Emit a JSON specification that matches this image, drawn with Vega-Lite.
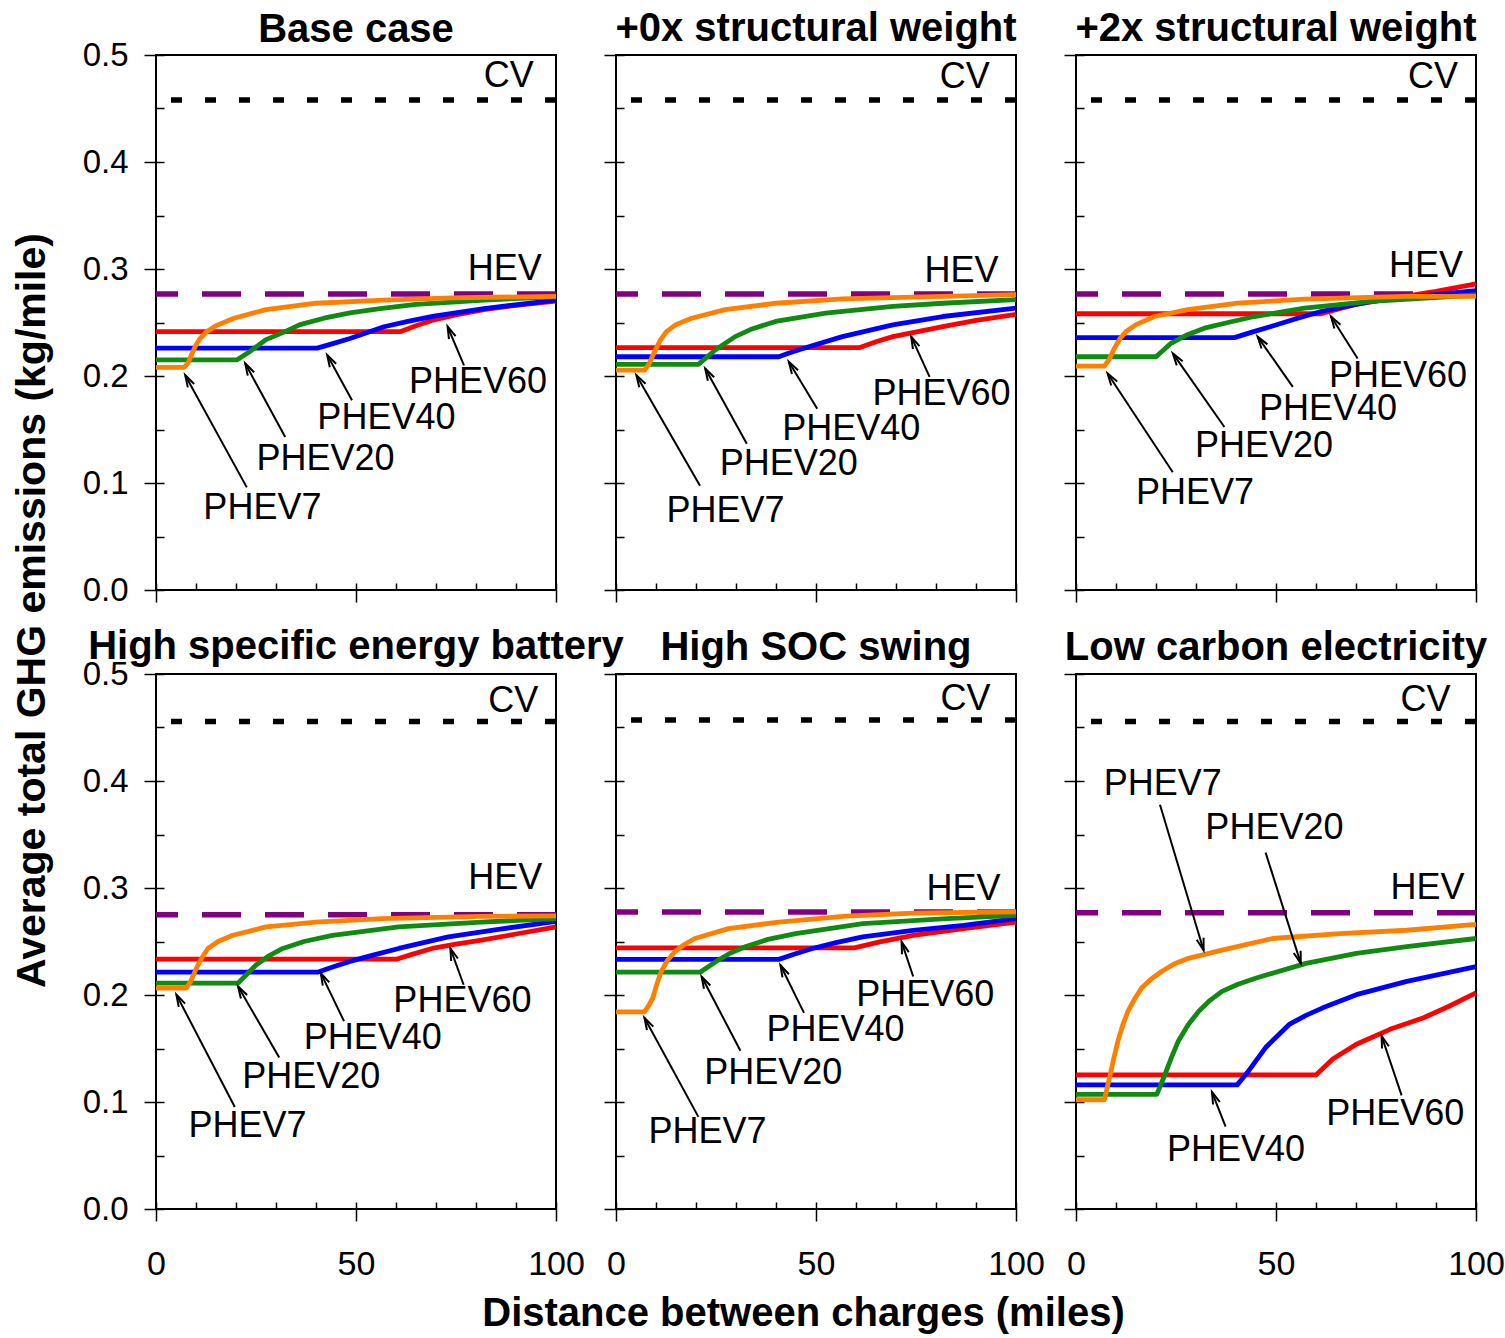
{
  "$schema": "https://vega.github.io/schema/vega-lite/v6.json",
  "background": "white",
  "padding": {"left": 10, "top": 8, "right": 5, "bottom": 2},
  "config": {
    "font": "Liberation Sans",
    "view": {"stroke": "black", "strokeWidth": 2},
    "axis": {"tickColor": "black", "tickWidth": 1.5, "labelColor": "black", "grid": false, "domain": false, "labelFont": "Liberation Sans", "titleFont": "Liberation Sans", "titleColor": "black", "labelFlush": false},
    "title": {"fontSize": 40, "fontWeight": "bold", "color": "black", "offset": 5, "frame": "group", "anchor": "middle", "font": "Liberation Sans"}
  },
  "columns": 3,
  "spacing": {"row": 84, "column": 60},
  "bounds": "flush",
  "datasets": {
    "refs": [
      {"panel": "base", "vehicle": "CV", "ghg": 0.458}, {"panel": "base", "vehicle": "HEV", "ghg": 0.2766},
      {"panel": "x0", "vehicle": "CV", "ghg": 0.458}, {"panel": "x0", "vehicle": "HEV", "ghg": 0.2766},
      {"panel": "x2", "vehicle": "CV", "ghg": 0.458}, {"panel": "x2", "vehicle": "HEV", "ghg": 0.2766},
      {"panel": "hse", "vehicle": "CV", "ghg": 0.4556}, {"panel": "hse", "vehicle": "HEV", "ghg": 0.275},
      {"panel": "soc", "vehicle": "CV", "ghg": 0.457}, {"panel": "soc", "vehicle": "HEV", "ghg": 0.2775},
      {"panel": "lce", "vehicle": "CV", "ghg": 0.4556}, {"panel": "lce", "vehicle": "HEV", "ghg": 0.2769}
    ],
    "curves": [
      {"panel": "base", "vehicle": "PHEV60", "dist": 0, "ghg": 0.2415},
      {"panel": "base", "vehicle": "PHEV60", "dist": 61.2, "ghg": 0.2415},
      {"panel": "base", "vehicle": "PHEV60", "dist": 65, "ghg": 0.247},
      {"panel": "base", "vehicle": "PHEV60", "dist": 69.5, "ghg": 0.2525},
      {"panel": "base", "vehicle": "PHEV60", "dist": 75, "ghg": 0.257},
      {"panel": "base", "vehicle": "PHEV60", "dist": 82, "ghg": 0.262},
      {"panel": "base", "vehicle": "PHEV60", "dist": 90, "ghg": 0.266},
      {"panel": "base", "vehicle": "PHEV60", "dist": 100, "ghg": 0.27},
      {"panel": "base", "vehicle": "PHEV40", "dist": 0, "ghg": 0.226},
      {"panel": "base", "vehicle": "PHEV40", "dist": 40.3, "ghg": 0.226},
      {"panel": "base", "vehicle": "PHEV40", "dist": 44, "ghg": 0.23},
      {"panel": "base", "vehicle": "PHEV40", "dist": 48.5, "ghg": 0.235},
      {"panel": "base", "vehicle": "PHEV40", "dist": 57, "ghg": 0.246},
      {"panel": "base", "vehicle": "PHEV40", "dist": 63, "ghg": 0.251},
      {"panel": "base", "vehicle": "PHEV40", "dist": 69.5, "ghg": 0.256},
      {"panel": "base", "vehicle": "PHEV40", "dist": 82, "ghg": 0.263},
      {"panel": "base", "vehicle": "PHEV40", "dist": 100, "ghg": 0.271},
      {"panel": "base", "vehicle": "PHEV20", "dist": 0, "ghg": 0.215},
      {"panel": "base", "vehicle": "PHEV20", "dist": 20.2, "ghg": 0.215},
      {"panel": "base", "vehicle": "PHEV20", "dist": 23.5, "ghg": 0.223},
      {"panel": "base", "vehicle": "PHEV20", "dist": 27.5, "ghg": 0.234},
      {"panel": "base", "vehicle": "PHEV20", "dist": 32, "ghg": 0.241},
      {"panel": "base", "vehicle": "PHEV20", "dist": 36, "ghg": 0.248},
      {"panel": "base", "vehicle": "PHEV20", "dist": 42, "ghg": 0.254},
      {"panel": "base", "vehicle": "PHEV20", "dist": 48.5, "ghg": 0.259},
      {"panel": "base", "vehicle": "PHEV20", "dist": 56, "ghg": 0.263},
      {"panel": "base", "vehicle": "PHEV20", "dist": 65, "ghg": 0.267},
      {"panel": "base", "vehicle": "PHEV20", "dist": 82, "ghg": 0.271},
      {"panel": "base", "vehicle": "PHEV20", "dist": 100, "ghg": 0.274},
      {"panel": "base", "vehicle": "PHEV7", "dist": 0, "ghg": 0.208},
      {"panel": "base", "vehicle": "PHEV7", "dist": 7, "ghg": 0.208},
      {"panel": "base", "vehicle": "PHEV7", "dist": 8, "ghg": 0.212},
      {"panel": "base", "vehicle": "PHEV7", "dist": 9, "ghg": 0.221},
      {"panel": "base", "vehicle": "PHEV7", "dist": 10, "ghg": 0.229},
      {"panel": "base", "vehicle": "PHEV7", "dist": 11, "ghg": 0.235},
      {"panel": "base", "vehicle": "PHEV7", "dist": 12.5, "ghg": 0.241},
      {"panel": "base", "vehicle": "PHEV7", "dist": 15, "ghg": 0.247},
      {"panel": "base", "vehicle": "PHEV7", "dist": 19.5, "ghg": 0.254},
      {"panel": "base", "vehicle": "PHEV7", "dist": 27.5, "ghg": 0.262},
      {"panel": "base", "vehicle": "PHEV7", "dist": 40, "ghg": 0.268},
      {"panel": "base", "vehicle": "PHEV7", "dist": 57, "ghg": 0.271},
      {"panel": "base", "vehicle": "PHEV7", "dist": 74, "ghg": 0.273},
      {"panel": "base", "vehicle": "PHEV7", "dist": 100, "ghg": 0.2745},

      {"panel": "x0", "vehicle": "PHEV60", "dist": 0, "ghg": 0.2265},
      {"panel": "x0", "vehicle": "PHEV60", "dist": 60.8, "ghg": 0.2265},
      {"panel": "x0", "vehicle": "PHEV60", "dist": 65, "ghg": 0.232},
      {"panel": "x0", "vehicle": "PHEV60", "dist": 69.2, "ghg": 0.2368},
      {"panel": "x0", "vehicle": "PHEV60", "dist": 81.7, "ghg": 0.2462},
      {"panel": "x0", "vehicle": "PHEV60", "dist": 90, "ghg": 0.252},
      {"panel": "x0", "vehicle": "PHEV60", "dist": 100, "ghg": 0.2575},
      {"panel": "x0", "vehicle": "PHEV40", "dist": 0, "ghg": 0.218},
      {"panel": "x0", "vehicle": "PHEV40", "dist": 40.7, "ghg": 0.218},
      {"panel": "x0", "vehicle": "PHEV40", "dist": 44, "ghg": 0.2225},
      {"panel": "x0", "vehicle": "PHEV40", "dist": 48.2, "ghg": 0.2274},
      {"panel": "x0", "vehicle": "PHEV40", "dist": 56.6, "ghg": 0.2368},
      {"panel": "x0", "vehicle": "PHEV40", "dist": 69.2, "ghg": 0.2478},
      {"panel": "x0", "vehicle": "PHEV40", "dist": 81.7, "ghg": 0.2556},
      {"panel": "x0", "vehicle": "PHEV40", "dist": 100, "ghg": 0.2634},
      {"panel": "x0", "vehicle": "PHEV20", "dist": 0, "ghg": 0.2108},
      {"panel": "x0", "vehicle": "PHEV20", "dist": 20.6, "ghg": 0.2108},
      {"panel": "x0", "vehicle": "PHEV20", "dist": 24.8, "ghg": 0.2243},
      {"panel": "x0", "vehicle": "PHEV20", "dist": 29.8, "ghg": 0.2368},
      {"panel": "x0", "vehicle": "PHEV20", "dist": 34, "ghg": 0.244},
      {"panel": "x0", "vehicle": "PHEV20", "dist": 39.9, "ghg": 0.251},
      {"panel": "x0", "vehicle": "PHEV20", "dist": 52.4, "ghg": 0.2588},
      {"panel": "x0", "vehicle": "PHEV20", "dist": 69.2, "ghg": 0.265},
      {"panel": "x0", "vehicle": "PHEV20", "dist": 81.7, "ghg": 0.268},
      {"panel": "x0", "vehicle": "PHEV20", "dist": 100, "ghg": 0.2713},
      {"panel": "x0", "vehicle": "PHEV7", "dist": 0, "ghg": 0.2055},
      {"panel": "x0", "vehicle": "PHEV7", "dist": 7.2, "ghg": 0.2055},
      {"panel": "x0", "vehicle": "PHEV7", "dist": 8.2, "ghg": 0.211},
      {"panel": "x0", "vehicle": "PHEV7", "dist": 9.7, "ghg": 0.223},
      {"panel": "x0", "vehicle": "PHEV7", "dist": 11, "ghg": 0.233},
      {"panel": "x0", "vehicle": "PHEV7", "dist": 12.6, "ghg": 0.2415},
      {"panel": "x0", "vehicle": "PHEV7", "dist": 15, "ghg": 0.248},
      {"panel": "x0", "vehicle": "PHEV7", "dist": 18.9, "ghg": 0.254},
      {"panel": "x0", "vehicle": "PHEV7", "dist": 27.3, "ghg": 0.262},
      {"panel": "x0", "vehicle": "PHEV7", "dist": 40, "ghg": 0.268},
      {"panel": "x0", "vehicle": "PHEV7", "dist": 56.6, "ghg": 0.272},
      {"panel": "x0", "vehicle": "PHEV7", "dist": 81.7, "ghg": 0.2744},
      {"panel": "x0", "vehicle": "PHEV7", "dist": 100, "ghg": 0.276},

      {"panel": "x2", "vehicle": "PHEV60", "dist": 0, "ghg": 0.2582},
      {"panel": "x2", "vehicle": "PHEV60", "dist": 61.25, "ghg": 0.2582},
      {"panel": "x2", "vehicle": "PHEV60", "dist": 65, "ghg": 0.262},
      {"panel": "x2", "vehicle": "PHEV60", "dist": 69.6, "ghg": 0.2666},
      {"panel": "x2", "vehicle": "PHEV60", "dist": 75, "ghg": 0.27},
      {"panel": "x2", "vehicle": "PHEV60", "dist": 82.1, "ghg": 0.2744},
      {"panel": "x2", "vehicle": "PHEV60", "dist": 90, "ghg": 0.279},
      {"panel": "x2", "vehicle": "PHEV60", "dist": 100, "ghg": 0.286},
      {"panel": "x2", "vehicle": "PHEV40", "dist": 0, "ghg": 0.2359},
      {"panel": "x2", "vehicle": "PHEV40", "dist": 39.6, "ghg": 0.2359},
      {"panel": "x2", "vehicle": "PHEV40", "dist": 44, "ghg": 0.241},
      {"panel": "x2", "vehicle": "PHEV40", "dist": 48.75, "ghg": 0.2462},
      {"panel": "x2", "vehicle": "PHEV40", "dist": 55, "ghg": 0.2535},
      {"panel": "x2", "vehicle": "PHEV40", "dist": 61.25, "ghg": 0.2603},
      {"panel": "x2", "vehicle": "PHEV40", "dist": 73.8, "ghg": 0.2697},
      {"panel": "x2", "vehicle": "PHEV40", "dist": 87, "ghg": 0.275},
      {"panel": "x2", "vehicle": "PHEV40", "dist": 100, "ghg": 0.2797},
      {"panel": "x2", "vehicle": "PHEV20", "dist": 0, "ghg": 0.218},
      {"panel": "x2", "vehicle": "PHEV20", "dist": 20, "ghg": 0.218},
      {"panel": "x2", "vehicle": "PHEV20", "dist": 23.75, "ghg": 0.2306},
      {"panel": "x2", "vehicle": "PHEV20", "dist": 27.5, "ghg": 0.238},
      {"panel": "x2", "vehicle": "PHEV20", "dist": 32.1, "ghg": 0.2447},
      {"panel": "x2", "vehicle": "PHEV20", "dist": 38, "ghg": 0.25},
      {"panel": "x2", "vehicle": "PHEV20", "dist": 44.6, "ghg": 0.2556},
      {"panel": "x2", "vehicle": "PHEV20", "dist": 57.1, "ghg": 0.2634},
      {"panel": "x2", "vehicle": "PHEV20", "dist": 73.8, "ghg": 0.2697},
      {"panel": "x2", "vehicle": "PHEV20", "dist": 100, "ghg": 0.2757},
      {"panel": "x2", "vehicle": "PHEV7", "dist": 0, "ghg": 0.2093},
      {"panel": "x2", "vehicle": "PHEV7", "dist": 7.1, "ghg": 0.2093},
      {"panel": "x2", "vehicle": "PHEV7", "dist": 8.2, "ghg": 0.215},
      {"panel": "x2", "vehicle": "PHEV7", "dist": 9.6, "ghg": 0.2258},
      {"panel": "x2", "vehicle": "PHEV7", "dist": 11, "ghg": 0.235},
      {"panel": "x2", "vehicle": "PHEV7", "dist": 12.5, "ghg": 0.2415},
      {"panel": "x2", "vehicle": "PHEV7", "dist": 15, "ghg": 0.248},
      {"panel": "x2", "vehicle": "PHEV7", "dist": 19.6, "ghg": 0.2556},
      {"panel": "x2", "vehicle": "PHEV7", "dist": 27.9, "ghg": 0.262},
      {"panel": "x2", "vehicle": "PHEV7", "dist": 40.4, "ghg": 0.2681},
      {"panel": "x2", "vehicle": "PHEV7", "dist": 57.1, "ghg": 0.2719},
      {"panel": "x2", "vehicle": "PHEV7", "dist": 82.1, "ghg": 0.2744},
      {"panel": "x2", "vehicle": "PHEV7", "dist": 100, "ghg": 0.2744},

      {"panel": "hse", "vehicle": "PHEV60", "dist": 0, "ghg": 0.2336},
      {"panel": "hse", "vehicle": "PHEV60", "dist": 60.3, "ghg": 0.2336},
      {"panel": "hse", "vehicle": "PHEV60", "dist": 64, "ghg": 0.238},
      {"panel": "hse", "vehicle": "PHEV60", "dist": 69, "ghg": 0.2435},
      {"panel": "hse", "vehicle": "PHEV60", "dist": 75, "ghg": 0.2475},
      {"panel": "hse", "vehicle": "PHEV60", "dist": 81.4, "ghg": 0.2512},
      {"panel": "hse", "vehicle": "PHEV60", "dist": 90, "ghg": 0.257},
      {"panel": "hse", "vehicle": "PHEV60", "dist": 100, "ghg": 0.2636},
      {"panel": "hse", "vehicle": "PHEV40", "dist": 0, "ghg": 0.2213},
      {"panel": "hse", "vehicle": "PHEV40", "dist": 40.4, "ghg": 0.2213},
      {"panel": "hse", "vehicle": "PHEV40", "dist": 44, "ghg": 0.226},
      {"panel": "hse", "vehicle": "PHEV40", "dist": 48.3, "ghg": 0.2312},
      {"panel": "hse", "vehicle": "PHEV40", "dist": 54, "ghg": 0.237},
      {"panel": "hse", "vehicle": "PHEV40", "dist": 60.7, "ghg": 0.2435},
      {"panel": "hse", "vehicle": "PHEV40", "dist": 73.1, "ghg": 0.2543},
      {"panel": "hse", "vehicle": "PHEV40", "dist": 85.6, "ghg": 0.2614},
      {"panel": "hse", "vehicle": "PHEV40", "dist": 100, "ghg": 0.2688},
      {"panel": "hse", "vehicle": "PHEV20", "dist": 0, "ghg": 0.2111},
      {"panel": "hse", "vehicle": "PHEV20", "dist": 20.5, "ghg": 0.2111},
      {"panel": "hse", "vehicle": "PHEV20", "dist": 25, "ghg": 0.228},
      {"panel": "hse", "vehicle": "PHEV20", "dist": 28, "ghg": 0.236},
      {"panel": "hse", "vehicle": "PHEV20", "dist": 31.7, "ghg": 0.2435},
      {"panel": "hse", "vehicle": "PHEV20", "dist": 37, "ghg": 0.25},
      {"panel": "hse", "vehicle": "PHEV20", "dist": 44.1, "ghg": 0.2558},
      {"panel": "hse", "vehicle": "PHEV20", "dist": 60.7, "ghg": 0.2636},
      {"panel": "hse", "vehicle": "PHEV20", "dist": 81.4, "ghg": 0.2682},
      {"panel": "hse", "vehicle": "PHEV20", "dist": 100, "ghg": 0.2713},
      {"panel": "hse", "vehicle": "PHEV7", "dist": 0, "ghg": 0.2065},
      {"panel": "hse", "vehicle": "PHEV7", "dist": 7.6, "ghg": 0.2065},
      {"panel": "hse", "vehicle": "PHEV7", "dist": 8.7, "ghg": 0.213},
      {"panel": "hse", "vehicle": "PHEV7", "dist": 10.1, "ghg": 0.225},
      {"panel": "hse", "vehicle": "PHEV7", "dist": 11.5, "ghg": 0.235},
      {"panel": "hse", "vehicle": "PHEV7", "dist": 13, "ghg": 0.2435},
      {"panel": "hse", "vehicle": "PHEV7", "dist": 15.5, "ghg": 0.25},
      {"panel": "hse", "vehicle": "PHEV7", "dist": 19.2, "ghg": 0.2558},
      {"panel": "hse", "vehicle": "PHEV7", "dist": 27.5, "ghg": 0.2636},
      {"panel": "hse", "vehicle": "PHEV7", "dist": 40, "ghg": 0.2682},
      {"panel": "hse", "vehicle": "PHEV7", "dist": 56.5, "ghg": 0.2713},
      {"panel": "hse", "vehicle": "PHEV7", "dist": 81.4, "ghg": 0.2734},
      {"panel": "hse", "vehicle": "PHEV7", "dist": 100, "ghg": 0.274},

      {"panel": "soc", "vehicle": "PHEV60", "dist": 0, "ghg": 0.2441},
      {"panel": "soc", "vehicle": "PHEV60", "dist": 59.6, "ghg": 0.2441},
      {"panel": "soc", "vehicle": "PHEV60", "dist": 65.9, "ghg": 0.2497},
      {"panel": "soc", "vehicle": "PHEV60", "dist": 74.3, "ghg": 0.2558},
      {"panel": "soc", "vehicle": "PHEV60", "dist": 86.9, "ghg": 0.262},
      {"panel": "soc", "vehicle": "PHEV60", "dist": 100, "ghg": 0.2682},
      {"panel": "soc", "vehicle": "PHEV40", "dist": 0, "ghg": 0.2333},
      {"panel": "soc", "vehicle": "PHEV40", "dist": 40.7, "ghg": 0.2333},
      {"panel": "soc", "vehicle": "PHEV40", "dist": 44.5, "ghg": 0.238},
      {"panel": "soc", "vehicle": "PHEV40", "dist": 49.1, "ghg": 0.2435},
      {"panel": "soc", "vehicle": "PHEV40", "dist": 55, "ghg": 0.249},
      {"panel": "soc", "vehicle": "PHEV40", "dist": 61.7, "ghg": 0.2543},
      {"panel": "soc", "vehicle": "PHEV40", "dist": 74.3, "ghg": 0.2605},
      {"panel": "soc", "vehicle": "PHEV40", "dist": 86.9, "ghg": 0.2651},
      {"panel": "soc", "vehicle": "PHEV40", "dist": 100, "ghg": 0.2713},
      {"panel": "soc", "vehicle": "PHEV20", "dist": 0, "ghg": 0.2213},
      {"panel": "soc", "vehicle": "PHEV20", "dist": 21, "ghg": 0.2213},
      {"panel": "soc", "vehicle": "PHEV20", "dist": 25.6, "ghg": 0.2327},
      {"panel": "soc", "vehicle": "PHEV20", "dist": 28.5, "ghg": 0.239},
      {"panel": "soc", "vehicle": "PHEV20", "dist": 32.3, "ghg": 0.2451},
      {"panel": "soc", "vehicle": "PHEV20", "dist": 38, "ghg": 0.252},
      {"panel": "soc", "vehicle": "PHEV20", "dist": 44.9, "ghg": 0.2574},
      {"panel": "soc", "vehicle": "PHEV20", "dist": 61.7, "ghg": 0.2667},
      {"panel": "soc", "vehicle": "PHEV20", "dist": 82.7, "ghg": 0.2713},
      {"panel": "soc", "vehicle": "PHEV20", "dist": 100, "ghg": 0.2744},
      {"panel": "soc", "vehicle": "PHEV7", "dist": 0, "ghg": 0.1843},
      {"panel": "soc", "vehicle": "PHEV7", "dist": 7.1, "ghg": 0.1843},
      {"panel": "soc", "vehicle": "PHEV7", "dist": 8, "ghg": 0.189},
      {"panel": "soc", "vehicle": "PHEV7", "dist": 9.2, "ghg": 0.1972},
      {"panel": "soc", "vehicle": "PHEV7", "dist": 10.2, "ghg": 0.21},
      {"panel": "soc", "vehicle": "PHEV7", "dist": 11.3, "ghg": 0.2219},
      {"panel": "soc", "vehicle": "PHEV7", "dist": 12.8, "ghg": 0.232},
      {"panel": "soc", "vehicle": "PHEV7", "dist": 14.7, "ghg": 0.2404},
      {"panel": "soc", "vehicle": "PHEV7", "dist": 17, "ghg": 0.247},
      {"panel": "soc", "vehicle": "PHEV7", "dist": 19.7, "ghg": 0.2528},
      {"panel": "soc", "vehicle": "PHEV7", "dist": 28.1, "ghg": 0.262},
      {"panel": "soc", "vehicle": "PHEV7", "dist": 40.7, "ghg": 0.2682},
      {"panel": "soc", "vehicle": "PHEV7", "dist": 57.5, "ghg": 0.2738},
      {"panel": "soc", "vehicle": "PHEV7", "dist": 74.3, "ghg": 0.2766},
      {"panel": "soc", "vehicle": "PHEV7", "dist": 100, "ghg": 0.2778},

      {"panel": "lce", "vehicle": "PHEV60", "dist": 0, "ghg": 0.1253},
      {"panel": "lce", "vehicle": "PHEV60", "dist": 60, "ghg": 0.1253},
      {"panel": "lce", "vehicle": "PHEV60", "dist": 64.2, "ghg": 0.1401},
      {"panel": "lce", "vehicle": "PHEV60", "dist": 70.1, "ghg": 0.154},
      {"panel": "lce", "vehicle": "PHEV60", "dist": 78.5, "ghg": 0.1679},
      {"panel": "lce", "vehicle": "PHEV60", "dist": 86.9, "ghg": 0.1787},
      {"panel": "lce", "vehicle": "PHEV60", "dist": 93, "ghg": 0.189},
      {"panel": "lce", "vehicle": "PHEV60", "dist": 100, "ghg": 0.2019},
      {"panel": "lce", "vehicle": "PHEV40", "dist": 0, "ghg": 0.116},
      {"panel": "lce", "vehicle": "PHEV40", "dist": 40.3, "ghg": 0.116},
      {"panel": "lce", "vehicle": "PHEV40", "dist": 43.2, "ghg": 0.1293},
      {"panel": "lce", "vehicle": "PHEV40", "dist": 47.4, "ghg": 0.1509},
      {"panel": "lce", "vehicle": "PHEV40", "dist": 53.3, "ghg": 0.1725},
      {"panel": "lce", "vehicle": "PHEV40", "dist": 57.5, "ghg": 0.181},
      {"panel": "lce", "vehicle": "PHEV40", "dist": 61.7, "ghg": 0.188},
      {"panel": "lce", "vehicle": "PHEV40", "dist": 70.1, "ghg": 0.2003},
      {"panel": "lce", "vehicle": "PHEV40", "dist": 82.7, "ghg": 0.2127},
      {"panel": "lce", "vehicle": "PHEV40", "dist": 100, "ghg": 0.2265},
      {"panel": "lce", "vehicle": "PHEV20", "dist": 0, "ghg": 0.1071},
      {"panel": "lce", "vehicle": "PHEV20", "dist": 20.2, "ghg": 0.1071},
      {"panel": "lce", "vehicle": "PHEV20", "dist": 22.3, "ghg": 0.1262},
      {"panel": "lce", "vehicle": "PHEV20", "dist": 23.9, "ghg": 0.142},
      {"panel": "lce", "vehicle": "PHEV20", "dist": 25.6, "ghg": 0.1571},
      {"panel": "lce", "vehicle": "PHEV20", "dist": 28, "ghg": 0.172},
      {"panel": "lce", "vehicle": "PHEV20", "dist": 30.7, "ghg": 0.1849},
      {"panel": "lce", "vehicle": "PHEV20", "dist": 33.5, "ghg": 0.195},
      {"panel": "lce", "vehicle": "PHEV20", "dist": 36.5, "ghg": 0.2034},
      {"panel": "lce", "vehicle": "PHEV20", "dist": 40.5, "ghg": 0.21},
      {"panel": "lce", "vehicle": "PHEV20", "dist": 44.9, "ghg": 0.2157},
      {"panel": "lce", "vehicle": "PHEV20", "dist": 57.5, "ghg": 0.2296},
      {"panel": "lce", "vehicle": "PHEV20", "dist": 70.1, "ghg": 0.2389},
      {"panel": "lce", "vehicle": "PHEV20", "dist": 82.7, "ghg": 0.2451},
      {"panel": "lce", "vehicle": "PHEV20", "dist": 100, "ghg": 0.2528},
      {"panel": "lce", "vehicle": "PHEV7", "dist": 0, "ghg": 0.1021},
      {"panel": "lce", "vehicle": "PHEV7", "dist": 7.1, "ghg": 0.1021},
      {"panel": "lce", "vehicle": "PHEV7", "dist": 8.4, "ghg": 0.1231},
      {"panel": "lce", "vehicle": "PHEV7", "dist": 9.4, "ghg": 0.14},
      {"panel": "lce", "vehicle": "PHEV7", "dist": 10.5, "ghg": 0.1571},
      {"panel": "lce", "vehicle": "PHEV7", "dist": 11.7, "ghg": 0.172},
      {"panel": "lce", "vehicle": "PHEV7", "dist": 13, "ghg": 0.1849},
      {"panel": "lce", "vehicle": "PHEV7", "dist": 14.6, "ghg": 0.196},
      {"panel": "lce", "vehicle": "PHEV7", "dist": 16.4, "ghg": 0.2065},
      {"panel": "lce", "vehicle": "PHEV7", "dist": 18.8, "ghg": 0.215},
      {"panel": "lce", "vehicle": "PHEV7", "dist": 21.4, "ghg": 0.2219},
      {"panel": "lce", "vehicle": "PHEV7", "dist": 24.5, "ghg": 0.229},
      {"panel": "lce", "vehicle": "PHEV7", "dist": 28.1, "ghg": 0.2343},
      {"panel": "lce", "vehicle": "PHEV7", "dist": 36.5, "ghg": 0.2419},
      {"panel": "lce", "vehicle": "PHEV7", "dist": 49.1, "ghg": 0.2528},
      {"panel": "lce", "vehicle": "PHEV7", "dist": 65.9, "ghg": 0.2574},
      {"panel": "lce", "vehicle": "PHEV7", "dist": 82.7, "ghg": 0.2605},
      {"panel": "lce", "vehicle": "PHEV7", "dist": 100, "ghg": 0.266}
    ],
    "labels": [
      {"panel": "base", "label": "CV", "x": 88.2, "y": 0.48}, {"panel": "base", "label": "HEV", "x": 87.2, "y": 0.2998},
      {"panel": "base", "label": "PHEV60", "x": 80.5, "y": 0.1945}, {"panel": "base", "label": "PHEV40", "x": 57.6, "y": 0.1607},
      {"panel": "base", "label": "PHEV20", "x": 42.4, "y": 0.1222}, {"panel": "base", "label": "PHEV7", "x": 26.6, "y": 0.0771},
      {"panel": "x0", "label": "CV", "x": 87.2, "y": 0.479}, {"panel": "x0", "label": "HEV", "x": 86.4, "y": 0.298},
      {"panel": "x0", "label": "PHEV60", "x": 81.4, "y": 0.1833}, {"panel": "x0", "label": "PHEV40", "x": 58.8, "y": 0.1504},
      {"panel": "x0", "label": "PHEV20", "x": 43.2, "y": 0.1175}, {"panel": "x0", "label": "PHEV7", "x": 27.4, "y": 0.0742},
      {"panel": "x2", "label": "CV", "x": 89.25, "y": 0.479}, {"panel": "x2", "label": "HEV", "x": 87.5, "y": 0.3026},
      {"panel": "x2", "label": "PHEV60", "x": 80.5, "y": 0.2002}, {"panel": "x2", "label": "PHEV40", "x": 63, "y": 0.1692},
      {"panel": "x2", "label": "PHEV20", "x": 47, "y": 0.1344}, {"panel": "x2", "label": "PHEV7", "x": 29.75, "y": 0.0902},
      {"panel": "hse", "label": "CV", "x": 89.3, "y": 0.475}, {"panel": "hse", "label": "HEV", "x": 87.3, "y": 0.3093},
      {"panel": "hse", "label": "PHEV60", "x": 76.6, "y": 0.1944}, {"panel": "hse", "label": "PHEV40", "x": 54.2, "y": 0.1602},
      {"panel": "hse", "label": "PHEV20", "x": 38.8, "y": 0.1231}, {"panel": "hse", "label": "PHEV7", "x": 22.9, "y": 0.0778},
      {"panel": "soc", "label": "CV", "x": 87.4, "y": 0.477}, {"panel": "soc", "label": "HEV", "x": 86.9, "y": 0.299},
      {"panel": "soc", "label": "PHEV60", "x": 77.3, "y": 0.2}, {"panel": "soc", "label": "PHEV40", "x": 54.9, "y": 0.1676},
      {"panel": "soc", "label": "PHEV20", "x": 39.3, "y": 0.1269}, {"panel": "soc", "label": "PHEV7", "x": 22.9, "y": 0.0722},
      {"panel": "lce", "label": "CV", "x": 87.4, "y": 0.476}, {"panel": "lce", "label": "HEV", "x": 87.9, "y": 0.3},
      {"panel": "lce", "label": "PHEV7", "x": 21.7, "y": 0.3972}, {"panel": "lce", "label": "PHEV20", "x": 49.6, "y": 0.3565},
      {"panel": "lce", "label": "PHEV40", "x": 40, "y": 0.0556}, {"panel": "lce", "label": "PHEV60", "x": 79.8, "y": 0.0889}
    ],
    "arrows": [
      {"panel": "base", "target": "PHEV60", "x1": 77, "y1": 0.21, "x2": 72.9, "y2": 0.2462},
      {"panel": "base", "target": "PHEV40", "x1": 49, "y1": 0.1773, "x2": 42.8, "y2": 0.2196},
      {"panel": "base", "target": "PHEV20", "x1": 32.3, "y1": 0.1429, "x2": 22.3, "y2": 0.2118},
      {"panel": "base", "target": "PHEV7", "x1": 22.7, "y1": 0.0959, "x2": 7.3, "y2": 0.2008},
      {"panel": "x0", "target": "PHEV60", "x1": 78.4, "y1": 0.1992, "x2": 73.8, "y2": 0.2368},
      {"panel": "x0", "target": "PHEV40", "x1": 50.3, "y1": 0.1694, "x2": 43.2, "y2": 0.2133},
      {"panel": "x0", "target": "PHEV20", "x1": 32.7, "y1": 0.1366, "x2": 22.3, "y2": 0.207},
      {"panel": "x0", "target": "PHEV7", "x1": 21, "y1": 0.0975, "x2": 5.1, "y2": 0.2008},
      {"panel": "x2", "target": "PHEV60", "x1": 70.4, "y1": 0.2164, "x2": 63.75, "y2": 0.2556},
      {"panel": "x2", "target": "PHEV40", "x1": 54.2, "y1": 0.1898, "x2": 45.4, "y2": 0.2368},
      {"panel": "x2", "target": "PHEV20", "x1": 37.1, "y1": 0.1523, "x2": 24.2, "y2": 0.2211},
      {"panel": "x2", "target": "PHEV7", "x1": 24.2, "y1": 0.11, "x2": 7.9, "y2": 0.2024},
      {"panel": "hse", "target": "PHEV60", "x1": 76.9, "y1": 0.2096, "x2": 73.6, "y2": 0.2435},
      {"panel": "hse", "target": "PHEV40", "x1": 47, "y1": 0.1756, "x2": 41.2, "y2": 0.2204},
      {"panel": "hse", "target": "PHEV20", "x1": 30.8, "y1": 0.1417, "x2": 20.5, "y2": 0.2081},
      {"panel": "hse", "target": "PHEV7", "x1": 19.7, "y1": 0.0954, "x2": 5.1, "y2": 0.2003},
      {"panel": "soc", "target": "PHEV60", "x1": 74.3, "y1": 0.2173, "x2": 71.4, "y2": 0.2497},
      {"panel": "soc", "target": "PHEV40", "x1": 47, "y1": 0.1833, "x2": 41.1, "y2": 0.228},
      {"panel": "soc", "target": "PHEV20", "x1": 31.1, "y1": 0.1479, "x2": 21.4, "y2": 0.2173},
      {"panel": "soc", "target": "PHEV7", "x1": 20.6, "y1": 0.0861, "x2": 7.1, "y2": 0.1787},
      {"panel": "lce", "target": "PHEV7", "x1": 21, "y1": 0.3778, "x2": 31.9, "y2": 0.2419},
      {"panel": "lce", "target": "PHEV20", "x1": 47.4, "y1": 0.3331, "x2": 56.2, "y2": 0.2296},
      {"panel": "lce", "target": "PHEV40", "x1": 37.4, "y1": 0.0769, "x2": 34, "y2": 0.1093},
      {"panel": "lce", "target": "PHEV60", "x1": 81.4, "y1": 0.1062, "x2": 76.4, "y2": 0.1617}
    ]
  },
  "concat": [
    {
      "width": 400, "height": 535,
      "title": {"text": "Base case", "offset": -11},
      "layer": [
        {"data": {"name": "refs"}, "transform": [{"filter": "datum.panel === 'base'"}],
         "mark": {"type": "rule", "strokeWidth": 5.5},
         "encoding": {
           "y": {"field": "ghg", "type": "quantitative", "scale": {"domain": [0, 0.5]}, "axis": {"orient": "left", "values": [0, 0.05, 0.1, 0.15, 0.2, 0.25, 0.3, 0.35, 0.4, 0.45, 0.5], "tickSize": -8, "labels": false, "title": null}},
           "color": {"field": "vehicle", "type": "nominal", "scale": {"domain": ["CV", "HEV", "PHEV7", "PHEV20", "PHEV40", "PHEV60"], "range": ["#000000", "#800080", "#ff8000", "#108a10", "#0000ff", "#ff0000"]}, "legend": null},
           "strokeDash": {"field": "vehicle", "type": "nominal", "scale": {"domain": ["CV", "HEV"], "range": [[11, 23], [39, 24]]}, "legend": null}
         }},
        {"data": {"name": "curves"}, "transform": [{"filter": "datum.panel === 'base'"}],
         "mark": {"type": "line", "strokeWidth": 4.8, "strokeJoin": "round"},
         "encoding": {
           "x": {"field": "dist", "type": "quantitative", "scale": {"domain": [0, 100]}, "axis": {"orient": "bottom", "values": [0, 50, 100], "tickSize": 12, "labels": false, "title": null}},
           "y": {"field": "ghg", "type": "quantitative", "scale": {"domain": [0, 0.5]}, "axis": {"orient": "left", "values": [0, 0.1, 0.2, 0.3, 0.4, 0.5], "format": ".1f", "tickSize": 12, "labelFontSize": 33, "labelPadding": 16, "title": "Average total GHG emissions  (kg/mile)", "titleFontSize": 41, "titleFontWeight": "bold", "titleAngle": -90, "titleAlign": "center", "titleBaseline": "middle", "titleX": -124, "titleY": 555}},
           "color": {"field": "vehicle", "type": "nominal", "legend": null}
         }},
        {"data": {"name": "arrows"}, "transform": [{"filter": "datum.panel === 'base'"}],
         "mark": {"type": "rule", "strokeWidth": 2, "color": "black"},
         "encoding": {
           "x": {"field": "x1", "type": "quantitative", "axis": {"orient": "bottom", "values": [0, 10, 20, 30, 40, 50, 60, 70, 80, 90, 100], "tickSize": -7, "labels": false, "title": null}},
           "y": {"field": "y1", "type": "quantitative", "axis": null},
           "x2": {"field": "x2"}, "y2": {"field": "y2"}
         }},
        {"data": {"name": "arrows"}, "transform": [{"filter": "datum.panel === 'base'"}, {"calculate": "atan2((datum.x2 - datum.x1) * 4, (datum.y2 - datum.y1) * 1070) * 180 / PI", "as": "heading"}],
         "mark": {"type": "point", "shape": "M-0.6,2L0,0L0.6,2", "filled": false, "color": "black", "strokeWidth": 2, "size": 144, "opacity": 1},
         "encoding": {
           "x": {"field": "x2", "type": "quantitative", "axis": null},
           "y": {"field": "y2", "type": "quantitative", "axis": null},
           "angle": {"field": "heading", "type": "quantitative", "scale": null}
         }},
        {"data": {"name": "labels"}, "transform": [{"filter": "datum.panel === 'base'"}],
         "mark": {"type": "text", "fontSize": 36, "align": "center", "baseline": "middle", "color": "black"},
         "encoding": {
           "x": {"field": "x", "type": "quantitative", "axis": null},
           "y": {"field": "y", "type": "quantitative", "axis": null},
           "text": {"field": "label"}
         }}
      ],
      "resolve": {"axis": {"x": "independent", "y": "independent"}}
    },
    {
      "width": 400, "height": 535,
      "title": {"text": "+0x structural weight"},
      "layer": [
        {"data": {"name": "refs"}, "transform": [{"filter": "datum.panel === 'x0'"}],
         "mark": {"type": "rule", "strokeWidth": 5.5},
         "encoding": {
           "y": {"field": "ghg", "type": "quantitative", "scale": {"domain": [0, 0.5]}, "axis": {"orient": "left", "values": [0, 0.05, 0.1, 0.15, 0.2, 0.25, 0.3, 0.35, 0.4, 0.45, 0.5], "tickSize": -8, "labels": false, "title": null}},
           "color": {"field": "vehicle", "type": "nominal", "scale": {"domain": ["CV", "HEV", "PHEV7", "PHEV20", "PHEV40", "PHEV60"], "range": ["#000000", "#800080", "#ff8000", "#108a10", "#0000ff", "#ff0000"]}, "legend": null},
           "strokeDash": {"field": "vehicle", "type": "nominal", "scale": {"domain": ["CV", "HEV"], "range": [[11, 23], [39, 24]]}, "legend": null}
         }},
        {"data": {"name": "curves"}, "transform": [{"filter": "datum.panel === 'x0'"}],
         "mark": {"type": "line", "strokeWidth": 4.8, "strokeJoin": "round"},
         "encoding": {
           "x": {"field": "dist", "type": "quantitative", "scale": {"domain": [0, 100]}, "axis": {"orient": "bottom", "values": [0, 50, 100], "tickSize": 12, "labels": false, "title": null}},
           "y": {"field": "ghg", "type": "quantitative", "scale": {"domain": [0, 0.5]}, "axis": {"orient": "left", "values": [0, 0.1, 0.2, 0.3, 0.4, 0.5], "tickSize": 12, "labels": false, "title": null}},
           "color": {"field": "vehicle", "type": "nominal", "legend": null}
         }},
        {"data": {"name": "arrows"}, "transform": [{"filter": "datum.panel === 'x0'"}],
         "mark": {"type": "rule", "strokeWidth": 2, "color": "black"},
         "encoding": {
           "x": {"field": "x1", "type": "quantitative", "axis": {"orient": "bottom", "values": [0, 10, 20, 30, 40, 50, 60, 70, 80, 90, 100], "tickSize": -7, "labels": false, "title": null}},
           "y": {"field": "y1", "type": "quantitative", "axis": null},
           "x2": {"field": "x2"}, "y2": {"field": "y2"}
         }},
        {"data": {"name": "arrows"}, "transform": [{"filter": "datum.panel === 'x0'"}, {"calculate": "atan2((datum.x2 - datum.x1) * 4, (datum.y2 - datum.y1) * 1070) * 180 / PI", "as": "heading"}],
         "mark": {"type": "point", "shape": "M-0.6,2L0,0L0.6,2", "filled": false, "color": "black", "strokeWidth": 2, "size": 144, "opacity": 1},
         "encoding": {
           "x": {"field": "x2", "type": "quantitative", "axis": null},
           "y": {"field": "y2", "type": "quantitative", "axis": null},
           "angle": {"field": "heading", "type": "quantitative", "scale": null}
         }},
        {"data": {"name": "labels"}, "transform": [{"filter": "datum.panel === 'x0'"}],
         "mark": {"type": "text", "fontSize": 36, "align": "center", "baseline": "middle", "color": "black"},
         "encoding": {
           "x": {"field": "x", "type": "quantitative", "axis": null},
           "y": {"field": "y", "type": "quantitative", "axis": null},
           "text": {"field": "label"}
         }}
      ],
      "resolve": {"axis": {"x": "independent", "y": "independent"}}
    },
    {
      "width": 400, "height": 535,
      "title": {"text": "+2x structural weight"},
      "layer": [
        {"data": {"name": "refs"}, "transform": [{"filter": "datum.panel === 'x2'"}],
         "mark": {"type": "rule", "strokeWidth": 5.5},
         "encoding": {
           "y": {"field": "ghg", "type": "quantitative", "scale": {"domain": [0, 0.5]}, "axis": {"orient": "left", "values": [0, 0.05, 0.1, 0.15, 0.2, 0.25, 0.3, 0.35, 0.4, 0.45, 0.5], "tickSize": -8, "labels": false, "title": null}},
           "color": {"field": "vehicle", "type": "nominal", "scale": {"domain": ["CV", "HEV", "PHEV7", "PHEV20", "PHEV40", "PHEV60"], "range": ["#000000", "#800080", "#ff8000", "#108a10", "#0000ff", "#ff0000"]}, "legend": null},
           "strokeDash": {"field": "vehicle", "type": "nominal", "scale": {"domain": ["CV", "HEV"], "range": [[11, 23], [39, 24]]}, "legend": null}
         }},
        {"data": {"name": "curves"}, "transform": [{"filter": "datum.panel === 'x2'"}],
         "mark": {"type": "line", "strokeWidth": 4.8, "strokeJoin": "round"},
         "encoding": {
           "x": {"field": "dist", "type": "quantitative", "scale": {"domain": [0, 100]}, "axis": {"orient": "bottom", "values": [0, 50, 100], "tickSize": 12, "labels": false, "title": null}},
           "y": {"field": "ghg", "type": "quantitative", "scale": {"domain": [0, 0.5]}, "axis": {"orient": "left", "values": [0, 0.1, 0.2, 0.3, 0.4, 0.5], "tickSize": 12, "labels": false, "title": null}},
           "color": {"field": "vehicle", "type": "nominal", "legend": null}
         }},
        {"data": {"name": "arrows"}, "transform": [{"filter": "datum.panel === 'x2'"}],
         "mark": {"type": "rule", "strokeWidth": 2, "color": "black"},
         "encoding": {
           "x": {"field": "x1", "type": "quantitative", "axis": {"orient": "bottom", "values": [0, 10, 20, 30, 40, 50, 60, 70, 80, 90, 100], "tickSize": -7, "labels": false, "title": null}},
           "y": {"field": "y1", "type": "quantitative", "axis": null},
           "x2": {"field": "x2"}, "y2": {"field": "y2"}
         }},
        {"data": {"name": "arrows"}, "transform": [{"filter": "datum.panel === 'x2'"}, {"calculate": "atan2((datum.x2 - datum.x1) * 4, (datum.y2 - datum.y1) * 1070) * 180 / PI", "as": "heading"}],
         "mark": {"type": "point", "shape": "M-0.6,2L0,0L0.6,2", "filled": false, "color": "black", "strokeWidth": 2, "size": 144, "opacity": 1},
         "encoding": {
           "x": {"field": "x2", "type": "quantitative", "axis": null},
           "y": {"field": "y2", "type": "quantitative", "axis": null},
           "angle": {"field": "heading", "type": "quantitative", "scale": null}
         }},
        {"data": {"name": "labels"}, "transform": [{"filter": "datum.panel === 'x2'"}],
         "mark": {"type": "text", "fontSize": 36, "align": "center", "baseline": "middle", "color": "black"},
         "encoding": {
           "x": {"field": "x", "type": "quantitative", "axis": null},
           "y": {"field": "y", "type": "quantitative", "axis": null},
           "text": {"field": "label"}
         }}
      ],
      "resolve": {"axis": {"x": "independent", "y": "independent"}}
    },
    {
      "width": 400, "height": 535,
      "title": {"text": "High specific energy battery", "offset": -9},
      "layer": [
        {"data": {"name": "refs"}, "transform": [{"filter": "datum.panel === 'hse'"}],
         "mark": {"type": "rule", "strokeWidth": 5.5},
         "encoding": {
           "y": {"field": "ghg", "type": "quantitative", "scale": {"domain": [0, 0.5]}, "axis": {"orient": "left", "values": [0, 0.05, 0.1, 0.15, 0.2, 0.25, 0.3, 0.35, 0.4, 0.45, 0.5], "tickSize": -8, "labels": false, "title": null}},
           "color": {"field": "vehicle", "type": "nominal", "scale": {"domain": ["CV", "HEV", "PHEV7", "PHEV20", "PHEV40", "PHEV60"], "range": ["#000000", "#800080", "#ff8000", "#108a10", "#0000ff", "#ff0000"]}, "legend": null},
           "strokeDash": {"field": "vehicle", "type": "nominal", "scale": {"domain": ["CV", "HEV"], "range": [[11, 23], [39, 24]]}, "legend": null}
         }},
        {"data": {"name": "curves"}, "transform": [{"filter": "datum.panel === 'hse'"}],
         "mark": {"type": "line", "strokeWidth": 4.8, "strokeJoin": "round"},
         "encoding": {
           "x": {"field": "dist", "type": "quantitative", "scale": {"domain": [0, 100]}, "axis": {"orient": "bottom", "values": [0, 50, 100], "tickSize": 12, "labelFontSize": 34, "labelPadding": 26, "title": null}},
           "y": {"field": "ghg", "type": "quantitative", "scale": {"domain": [0, 0.5]}, "axis": {"orient": "left", "values": [0, 0.1, 0.2, 0.3, 0.4, 0.5], "format": ".1f", "tickSize": 12, "labelFontSize": 33, "labelPadding": 16, "title": null}},
           "color": {"field": "vehicle", "type": "nominal", "legend": null}
         }},
        {"data": {"name": "arrows"}, "transform": [{"filter": "datum.panel === 'hse'"}],
         "mark": {"type": "rule", "strokeWidth": 2, "color": "black"},
         "encoding": {
           "x": {"field": "x1", "type": "quantitative", "axis": {"orient": "bottom", "values": [0, 10, 20, 30, 40, 50, 60, 70, 80, 90, 100], "tickSize": -7, "labels": false, "title": null}},
           "y": {"field": "y1", "type": "quantitative", "axis": null},
           "x2": {"field": "x2"}, "y2": {"field": "y2"}
         }},
        {"data": {"name": "arrows"}, "transform": [{"filter": "datum.panel === 'hse'"}, {"calculate": "atan2((datum.x2 - datum.x1) * 4, (datum.y2 - datum.y1) * 1070) * 180 / PI", "as": "heading"}],
         "mark": {"type": "point", "shape": "M-0.6,2L0,0L0.6,2", "filled": false, "color": "black", "strokeWidth": 2, "size": 144, "opacity": 1},
         "encoding": {
           "x": {"field": "x2", "type": "quantitative", "axis": null},
           "y": {"field": "y2", "type": "quantitative", "axis": null},
           "angle": {"field": "heading", "type": "quantitative", "scale": null}
         }},
        {"data": {"name": "labels"}, "transform": [{"filter": "datum.panel === 'hse'"}],
         "mark": {"type": "text", "fontSize": 36, "align": "center", "baseline": "middle", "color": "black"},
         "encoding": {
           "x": {"field": "x", "type": "quantitative", "axis": null},
           "y": {"field": "y", "type": "quantitative", "axis": null},
           "text": {"field": "label"}
         }}
      ],
      "resolve": {"axis": {"x": "independent", "y": "independent"}}
    },
    {
      "width": 400, "height": 535,
      "title": {"text": "High SOC swing"},
      "layer": [
        {"data": {"name": "refs"}, "transform": [{"filter": "datum.panel === 'soc'"}],
         "mark": {"type": "rule", "strokeWidth": 5.5},
         "encoding": {
           "y": {"field": "ghg", "type": "quantitative", "scale": {"domain": [0, 0.5]}, "axis": {"orient": "left", "values": [0, 0.05, 0.1, 0.15, 0.2, 0.25, 0.3, 0.35, 0.4, 0.45, 0.5], "tickSize": -8, "labels": false, "title": null}},
           "color": {"field": "vehicle", "type": "nominal", "scale": {"domain": ["CV", "HEV", "PHEV7", "PHEV20", "PHEV40", "PHEV60"], "range": ["#000000", "#800080", "#ff8000", "#108a10", "#0000ff", "#ff0000"]}, "legend": null},
           "strokeDash": {"field": "vehicle", "type": "nominal", "scale": {"domain": ["CV", "HEV"], "range": [[11, 23], [39, 24]]}, "legend": null}
         }},
        {"data": {"name": "curves"}, "transform": [{"filter": "datum.panel === 'soc'"}],
         "mark": {"type": "line", "strokeWidth": 4.8, "strokeJoin": "round"},
         "encoding": {
           "x": {"field": "dist", "type": "quantitative", "scale": {"domain": [0, 100]}, "axis": {"orient": "bottom", "values": [0, 50, 100], "tickSize": 12, "labelFontSize": 34, "labelPadding": 26, "title": "Distance between charges (miles)", "titleFontSize": 40, "titleFontWeight": "bold", "titlePadding": 12, "titleX": 187, "titleAlign": "center"}},
           "y": {"field": "ghg", "type": "quantitative", "scale": {"domain": [0, 0.5]}, "axis": {"orient": "left", "values": [0, 0.1, 0.2, 0.3, 0.4, 0.5], "tickSize": 12, "labels": false, "title": null}},
           "color": {"field": "vehicle", "type": "nominal", "legend": null}
         }},
        {"data": {"name": "arrows"}, "transform": [{"filter": "datum.panel === 'soc'"}],
         "mark": {"type": "rule", "strokeWidth": 2, "color": "black"},
         "encoding": {
           "x": {"field": "x1", "type": "quantitative", "axis": {"orient": "bottom", "values": [0, 10, 20, 30, 40, 50, 60, 70, 80, 90, 100], "tickSize": -7, "labels": false, "title": null}},
           "y": {"field": "y1", "type": "quantitative", "axis": null},
           "x2": {"field": "x2"}, "y2": {"field": "y2"}
         }},
        {"data": {"name": "arrows"}, "transform": [{"filter": "datum.panel === 'soc'"}, {"calculate": "atan2((datum.x2 - datum.x1) * 4, (datum.y2 - datum.y1) * 1070) * 180 / PI", "as": "heading"}],
         "mark": {"type": "point", "shape": "M-0.6,2L0,0L0.6,2", "filled": false, "color": "black", "strokeWidth": 2, "size": 144, "opacity": 1},
         "encoding": {
           "x": {"field": "x2", "type": "quantitative", "axis": null},
           "y": {"field": "y2", "type": "quantitative", "axis": null},
           "angle": {"field": "heading", "type": "quantitative", "scale": null}
         }},
        {"data": {"name": "labels"}, "transform": [{"filter": "datum.panel === 'soc'"}],
         "mark": {"type": "text", "fontSize": 36, "align": "center", "baseline": "middle", "color": "black"},
         "encoding": {
           "x": {"field": "x", "type": "quantitative", "axis": null},
           "y": {"field": "y", "type": "quantitative", "axis": null},
           "text": {"field": "label"}
         }}
      ],
      "resolve": {"axis": {"x": "independent", "y": "independent"}}
    },
    {
      "width": 400, "height": 535,
      "title": {"text": "Low carbon electricity"},
      "layer": [
        {"data": {"name": "refs"}, "transform": [{"filter": "datum.panel === 'lce'"}],
         "mark": {"type": "rule", "strokeWidth": 5.5},
         "encoding": {
           "y": {"field": "ghg", "type": "quantitative", "scale": {"domain": [0, 0.5]}, "axis": {"orient": "left", "values": [0, 0.05, 0.1, 0.15, 0.2, 0.25, 0.3, 0.35, 0.4, 0.45, 0.5], "tickSize": -8, "labels": false, "title": null}},
           "color": {"field": "vehicle", "type": "nominal", "scale": {"domain": ["CV", "HEV", "PHEV7", "PHEV20", "PHEV40", "PHEV60"], "range": ["#000000", "#800080", "#ff8000", "#108a10", "#0000ff", "#ff0000"]}, "legend": null},
           "strokeDash": {"field": "vehicle", "type": "nominal", "scale": {"domain": ["CV", "HEV"], "range": [[11, 23], [39, 24]]}, "legend": null}
         }},
        {"data": {"name": "curves"}, "transform": [{"filter": "datum.panel === 'lce'"}],
         "mark": {"type": "line", "strokeWidth": 4.8, "strokeJoin": "round"},
         "encoding": {
           "x": {"field": "dist", "type": "quantitative", "scale": {"domain": [0, 100]}, "axis": {"orient": "bottom", "values": [0, 50, 100], "tickSize": 12, "labelFontSize": 34, "labelPadding": 26, "title": null}},
           "y": {"field": "ghg", "type": "quantitative", "scale": {"domain": [0, 0.5]}, "axis": {"orient": "left", "values": [0, 0.1, 0.2, 0.3, 0.4, 0.5], "tickSize": 12, "labels": false, "title": null}},
           "color": {"field": "vehicle", "type": "nominal", "legend": null}
         }},
        {"data": {"name": "arrows"}, "transform": [{"filter": "datum.panel === 'lce'"}],
         "mark": {"type": "rule", "strokeWidth": 2, "color": "black"},
         "encoding": {
           "x": {"field": "x1", "type": "quantitative", "axis": {"orient": "bottom", "values": [0, 10, 20, 30, 40, 50, 60, 70, 80, 90, 100], "tickSize": -7, "labels": false, "title": null}},
           "y": {"field": "y1", "type": "quantitative", "axis": null},
           "x2": {"field": "x2"}, "y2": {"field": "y2"}
         }},
        {"data": {"name": "arrows"}, "transform": [{"filter": "datum.panel === 'lce'"}, {"calculate": "atan2((datum.x2 - datum.x1) * 4, (datum.y2 - datum.y1) * 1070) * 180 / PI", "as": "heading"}],
         "mark": {"type": "point", "shape": "M-0.6,2L0,0L0.6,2", "filled": false, "color": "black", "strokeWidth": 2, "size": 144, "opacity": 1},
         "encoding": {
           "x": {"field": "x2", "type": "quantitative", "axis": null},
           "y": {"field": "y2", "type": "quantitative", "axis": null},
           "angle": {"field": "heading", "type": "quantitative", "scale": null}
         }},
        {"data": {"name": "labels"}, "transform": [{"filter": "datum.panel === 'lce'"}],
         "mark": {"type": "text", "fontSize": 36, "align": "center", "baseline": "middle", "color": "black"},
         "encoding": {
           "x": {"field": "x", "type": "quantitative", "axis": null},
           "y": {"field": "y", "type": "quantitative", "axis": null},
           "text": {"field": "label"}
         }}
      ],
      "resolve": {"axis": {"x": "independent", "y": "independent"}}
    }
  ]
}
